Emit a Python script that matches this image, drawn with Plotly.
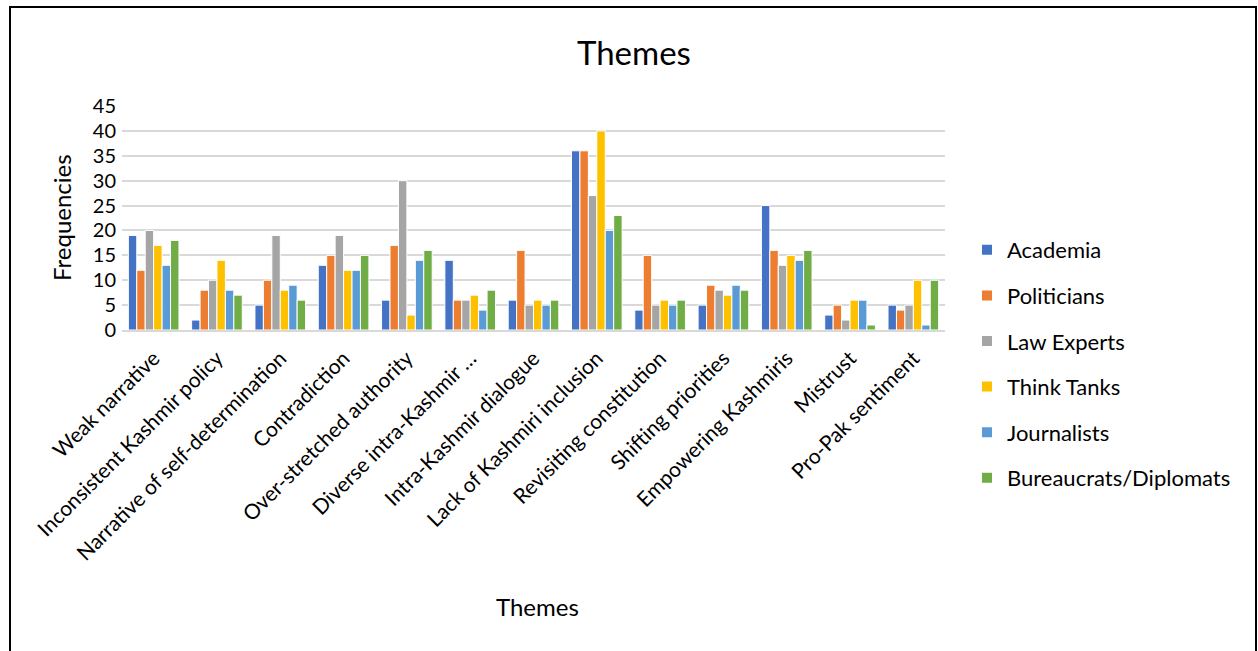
import plotly.graph_objects as go

categories = ["Weak narrative", "Inconsistent Kashmir policy", "Narrative of self-determination",
              "Contradiction", "Over-stretched authority", "Diverse intra-Kashmir …",
              "Intra-Kashmir dialogue", "Lack of Kashmiri inclusion", "Revisiting constitution",
              "Shifting priorities", "Empowering Kashmiris", "Mistrust", "Pro-Pak sentiment"]

academia = [19, 2, 5, 13, 6, 14, 6, 36, 4, 5, 25, 3, 5]
politicians = [12, 8, 10, 15, 17, 6, 16, 36, 15, 9, 16, 5, 4]
law_experts = [20, 10, 19, 19, 30, 6, 5, 27, 5, 8, 13, 2, 5]
think_tanks = [17, 14, 8, 12, 3, 7, 6, 40, 6, 7, 15, 6, 10]
journalists = [13, 8, 9, 12, 14, 4, 5, 20, 5, 9, 14, 6, 1]
bureaucrats = [18, 7, 6, 15, 16, 8, 6, 23, 6, 8, 16, 1, 10]

series_names = ["Academia", "Politicians", "Law Experts", "Think Tanks", "Journalists",
                "Bureaucrats/Diplomats"]
series_values = [academia, politicians, law_experts, think_tanks, journalists, bureaucrats]
colors = ["#4472C4", "#ED7D31", "#A5A5A5", "#FFC000", "#5B9BD5", "#70AD47"]

FONT = "Lato, 'Open Sans', sans-serif"

fig = go.Figure()
for i, (name, vals, col) in enumerate(zip(series_names, series_values, colors)):
    fig.add_trace(go.Bar(x=categories, y=vals, name=name,
                         marker=dict(color=col, line=dict(color="white", width=1)),
                         legendgroup=name))

W, H = 1258, 651
L, R, T, B = 122, 945, 106, 330

def px_x(x):
    return (x - L) / (R - L)

def px_y(y):
    return (B - y) / (B - T)

fig.update_layout(
    width=W, height=H,
    margin=dict(l=L, r=W - R, t=T, b=H - B, pad=0),
    paper_bgcolor="white", plot_bgcolor="white",
    font=dict(family=FONT, color="black", size=18),
    barmode="group", bargap=0.2, bargroupgap=0.0,
    showlegend=True,
    legend=dict(x=px_x(967), xanchor="left", y=px_y(364), yanchor="middle",
                font=dict(size=22, family=FONT), tracegroupgap=14,
                itemsizing="constant", bgcolor="rgba(0,0,0,0)"),
    xaxis=dict(tickangle=-45, tickfont=dict(size=21, family=FONT), showline=True,
               linecolor="#D9D9D9", linewidth=1.5, ticks="", showgrid=False,
               ticklabelstandoff=6),
    yaxis=dict(range=[0, 45], dtick=5, tick0=0, showgrid=True, gridcolor="#D9D9D9",
               gridwidth=1.5, zeroline=False, showline=False, ticks="",
               tickfont=dict(size=20, family=FONT), ticklabelstandoff=5),
)

fig.add_annotation(text="Themes", x=px_x(634), y=px_y(52), xref="paper", yref="paper",
                   showarrow=False, font=dict(size=33, family=FONT), xanchor="center",
                   yanchor="middle")
fig.add_annotation(text="Themes", x=px_x(537), y=px_y(606), xref="paper", yref="paper",
                   showarrow=False, font=dict(size=24, family=FONT), xanchor="center",
                   yanchor="middle")
fig.add_annotation(text="Frequencies", x=px_x(61), y=px_y(217), xref="paper", yref="paper",
                   showarrow=False, font=dict(size=24, family=FONT), textangle=-90,
                   xanchor="center", yanchor="middle")

fig.add_shape(type="rect", xref="paper", yref="paper",
              x0=px_x(10), x1=px_x(1256), y0=px_y(660), y1=px_y(7),
              line=dict(color="black", width=2), fillcolor="rgba(0,0,0,0)", layer="below")

fig.write_html("out.html")
